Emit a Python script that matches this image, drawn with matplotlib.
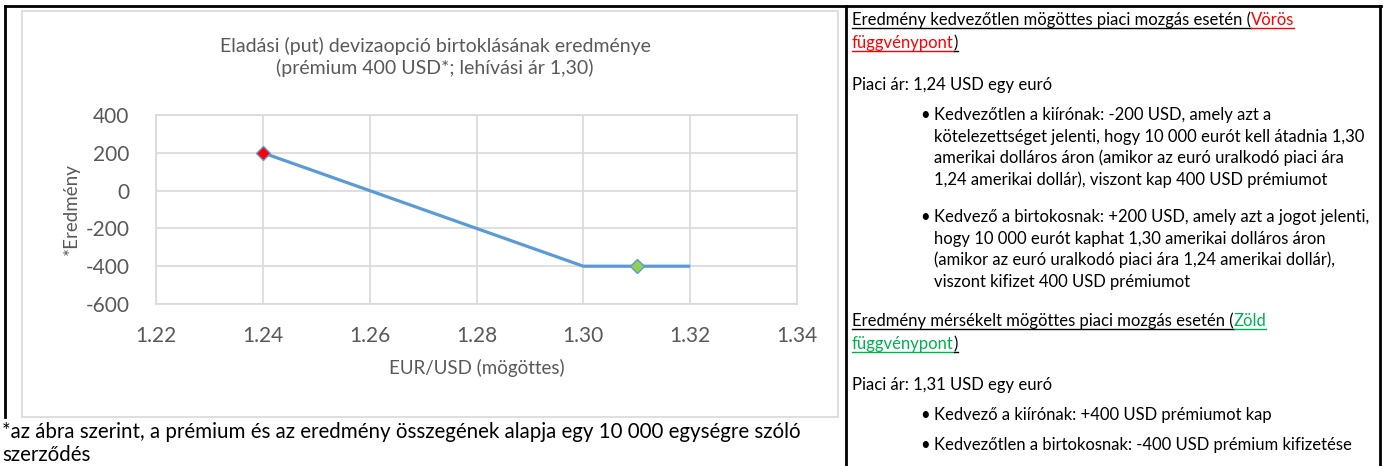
import matplotlib
matplotlib.use("Agg")
from matplotlib import pyplot as plt
from matplotlib.lines import Line2D
from matplotlib.patches import Rectangle

W, H = 1385, 466
FONT = ['Lato', 'DejaVu Sans']
GRAY = '#595959'
GRID = '#D9D9D9'
BLUE = '#5B9BD5'

# chart data
put_x = [1.24, 1.30, 1.32]
put_y = [200, -400, -400]
red_x, red_y = [1.24], [200]
green_x, green_y = [1.31], [-400]
x_ticks = [1.22, 1.24, 1.26, 1.28, 1.30, 1.32, 1.34]
y_ticks = [-600, -400, -200, 0, 200, 400]

title = "Eladási (put) devizaopció birtoklásának eredménye\n(prémium 400 USD*; lehívási ár 1,30)"
x_label = "EUR/USD (mögöttes)"
y_label = "*Eredmény"
footnote = ["*az ábra szerint, a prémium és az eredmény összegének alapja egy 10 000 egységre szóló",
            "szerződés"]

plt.rcParams['font.family'] = FONT
plt.rcParams['axes.unicode_minus'] = False
fig = plt.figure(figsize=(W / 100, H / 100), dpi=100)
fig.patch.set_facecolor('white')


def fx(x):
    return x / W


def fy(y):
    return 1 - y / H


def hline(x0, x1, y, color='black', lw=1.5):
    fig.add_artist(Line2D([fx(x0), fx(x1)], [fy(y), fy(y)], color=color, lw=lw))


def vline(x, y0, y1, color='black', lw=1.5):
    fig.add_artist(Line2D([fx(x), fx(x)], [fy(y0), fy(y1)], color=color, lw=lw))


# table borders
hline(5, 1381, 6, lw=2)
vline(5, 6, 417, lw=2)
vline(846, 6, 466, lw=2)
vline(1380, 6, 466, lw=2)

# chart box
fig.add_artist(Rectangle((fx(22), fy(417)), fx(838 - 22), (417 - 11) / H,
                         fill=False, edgecolor=GRID, lw=1.2))

ax = fig.add_axes([fx(156), fy(304), fx(797 - 156), (304 - 115) / H])
ax.plot(put_x, put_y, color=BLUE, lw=2.3, solid_capstyle='butt', zorder=3)
ax.plot(red_x, red_y, ls='none', marker='D', ms=7, mfc='#FF0000', mec=BLUE, mew=1, zorder=4)
ax.plot(green_x, green_y, ls='none', marker='D', ms=7, mfc='#92D050', mec=BLUE, mew=1, zorder=4)
ax.set_xlim(x_ticks[0], x_ticks[-1])
ax.set_ylim(y_ticks[0], y_ticks[-1])
ax.set_xticks(x_ticks)
ax.set_xticklabels(['%.2f' % v for v in x_ticks])
ax.set_yticks(y_ticks)
ax.grid(True, color=GRID, lw=1.2)
ax.set_axisbelow(True)
for s in ax.spines.values():
    s.set_color(GRID)
    s.set_linewidth(1.2)
ax.tick_params(axis='y', length=0, labelsize=15, labelcolor=GRAY, pad=19)
ax.tick_params(axis='x', length=0, labelsize=15, labelcolor=GRAY, pad=16)
ax.set_xlabel(x_label, fontsize=13.5, color=GRAY, labelpad=9)
ax.set_ylabel(y_label, fontsize=13.5, color=GRAY, labelpad=4)

fig.text(fx(435), fy(57), title, ha='center', va='center', fontsize=14,
         color=GRAY, linespacing=1.3)

fig.text(fx(2), fy(432), footnote[0], ha='left', va='center', fontsize=14.8, color='black')
fig.text(fx(2), fy(455), footnote[1], ha='left', va='center', fontsize=14.8, color='black')

# right cell text
fig.canvas.draw()
renderer = fig.canvas.get_renderer()
BODY = 12


def parts_line(x, y, parts, underline=False):
    for s, c in parts:
        t = fig.text(fx(x), fy(y), s, ha='left', va='baseline', fontsize=BODY, color=c)
        bb = t.get_window_extent(renderer)
        if underline:
            hline(bb.x0, bb.x1, y + 3, color=c, lw=1)
        x = bb.x1


RED = '#FF0000'
GREEN = '#00B050'
X0 = 852
XB = 920
XT = 934

parts_line(X0, 25, [("Eredmény kedvezőtlen mögöttes piaci mozgás esetén (", 'black'), ("Vörös", RED)], True)
parts_line(X0, 48, [("függvénypont", RED), (")", 'black')], True)
parts_line(X0, 90, [("Piaci ár: 1,24 USD egy euró", 'black')])

bullet1 = ["Kedvezőtlen a kiírónak: -200 USD, amely azt a",
           "kötelezettséget jelenti, hogy 10 000 eurót kell átadnia 1,30",
           "amerikai dolláros áron (amikor az euró uralkodó piaci ára",
           "1,24 amerikai dollár), viszont kap 400 USD prémiumot"]
bullet2 = ["Kedvező a birtokosnak: +200 USD, amely azt a jogot jelenti,",
           "hogy 10 000 eurót kaphat 1,30 amerikai dolláros áron",
           "(amikor az euró uralkodó piaci ára 1,24 amerikai dollár),",
           "viszont kifizet 400 USD prémiumot"]
bullet3 = ["Kedvező a kiírónak: +400 USD prémiumot kap"]
bullet4 = ["Kedvezőtlen a birtokosnak: -400 USD prémium kifizetése"]


def bullet(y, lines, step=21.7):
    fig.text(fx(XB), fy(y), "•", ha='left', va='baseline', fontsize=BODY, color='black')
    for i, s in enumerate(lines):
        fig.text(fx(XT), fy(y + i * step), s, ha='left', va='baseline', fontsize=BODY, color='black')


bullet(120, bullet1)
bullet(222, bullet2)

parts_line(X0, 326, [("Eredmény mérsékelt mögöttes piaci mozgás esetén (", 'black'), ("Zöld", GREEN)], True)
parts_line(X0, 349, [("függvénypont", GREEN), (")", 'black')], True)
parts_line(X0, 390, [("Piaci ár: 1,31 USD egy euró", 'black')])
bullet(420, bullet3)
bullet(450, bullet4)

fig.savefig("out.png", dpi=100, facecolor='white')
